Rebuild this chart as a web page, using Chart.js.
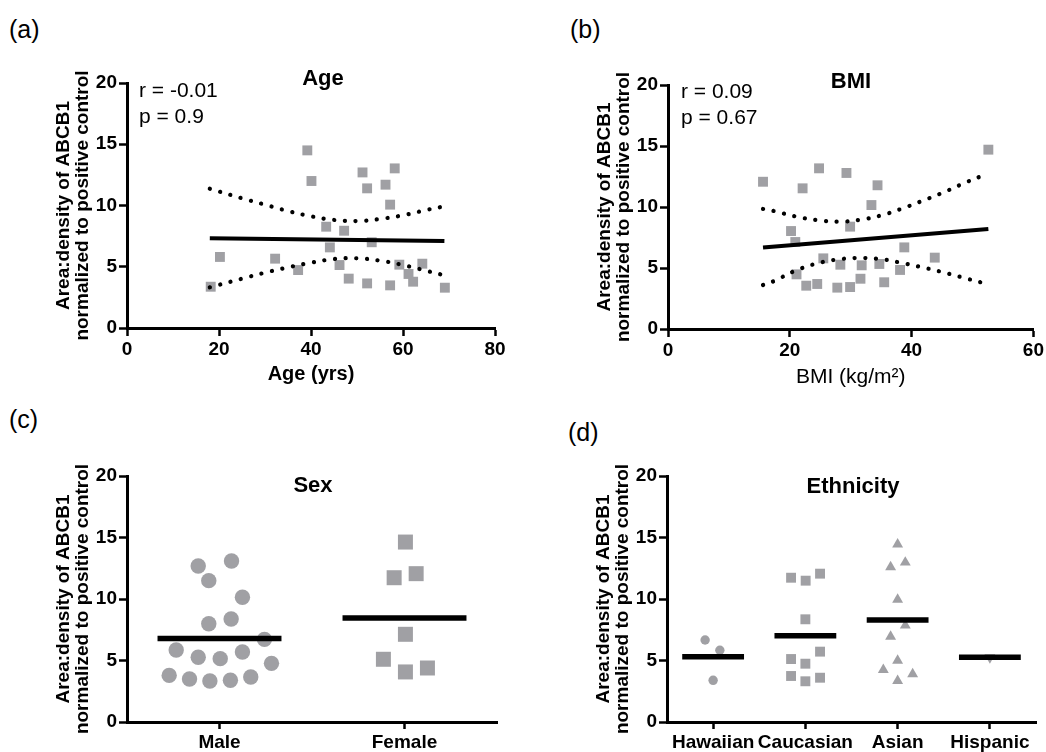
<!DOCTYPE html>
<html>
<head>
<meta charset="utf-8">
<script src="https://cdn.jsdelivr.net/npm/chart.js@4.4.1/dist/chart.umd.min.js"></script>
<style>
  body { margin:0; width:1046px; height:752px; background:#fff; position:relative; overflow:hidden;
         font-family:"Liberation Sans", Arial, sans-serif; }
  canvas { position:absolute; }
  .lab { position:absolute; font-size:25px; line-height:1; color:#000; }
</style>
</head>
<body>
<div class="lab" style="left:9px;top:17px">(a)</div>
<div class="lab" style="left:570px;top:17px">(b)</div>
<div class="lab" style="left:9px;top:407px">(c)</div>
<div class="lab" style="left:568px;top:420px">(d)</div>
<canvas id="cA" width="530" height="350" style="left:0;top:50px"></canvas>
<canvas id="cB" width="506" height="350" style="left:540px;top:50px"></canvas>
<canvas id="cC" width="530" height="332" style="left:0;top:420px"></canvas>
<canvas id="cD" width="506" height="332" style="left:540px;top:420px"></canvas>
<script>
// ── Daten ───────────────────────────────────────────────────────────────────
const ageX = [18.2, 20.2, 32.2, 37.2, 39.2, 40.1, 43.3, 44.1, 46.2, 47.2, 48.2, 51.2,
              52.2, 52.2, 53.2, 56.2, 57.2, 57.2, 58.2, 59.2, 61.2, 62.2, 64.2, 69.1];
const ageY = [3.37, 5.8, 5.66, 4.73, 14.5, 12.0, 8.27, 6.58, 5.14, 7.94, 4.03, 12.7,
              11.4, 3.64, 7.0, 11.7, 10.07, 3.48, 13.03, 5.17, 4.41, 3.78, 5.25, 3.29];
const ageFitX = [18, 69];
const ageFitY = [7.32, 7.1];
const ageBandX = [18, 25, 30, 35, 40, 45, 50, 55, 60, 65, 69];
const ageUpper = [11.37, 10.59, 10.07, 9.55, 9.12, 8.82, 8.73, 8.9, 9.2, 9.63, 9.93];
const ageLower = [3.32, 4.03, 4.52, 4.95, 5.33, 5.63, 5.69, 5.5, 5.14, 4.68, 4.3];

const bmiX = [15.6, 20.2, 20.9, 21.1, 22.1, 22.7, 24.5, 24.8, 25.5, 27.8, 28.3, 29.3,
              29.9, 29.9, 31.6, 31.8, 33.4, 34.4, 34.7, 35.5, 38.1, 38.8, 43.8, 52.6];
const bmiY = [12.07, 8.03, 7.13, 4.48, 11.53, 3.55, 3.69, 13.17, 5.79, 3.39, 5.27, 12.79,
              8.39, 3.44, 4.12, 5.22, 10.16, 11.78, 5.33, 3.83, 4.84, 6.69, 5.85, 14.7];
const bmiFitX = [15.6, 52.6];
const bmiFitY = [6.69, 8.2];
const bmiBandX = [15.6, 17.4, 20.9, 24.5, 28.0, 31.6, 35.2, 38.7, 42.0, 45.4, 48.7, 52.6];
const bmiUpper = [9.84, 9.67, 9.23, 8.93, 8.8, 8.96, 9.34, 9.92, 10.55, 11.23, 11.97, 12.75];
const bmiLower = [3.6, 3.93, 4.78, 5.38, 5.71, 5.82, 5.71, 5.38, 5.03, 4.62, 4.18, 3.66];

const sexCats = ['Male', 'Female'];
const maleJit = [-0.115, 0.065, -0.058, 0.124, -0.058, 0.063, 0.243, -0.234, -0.115, 0.004,
                 0.124, 0.281, -0.272, -0.162, -0.052, 0.059, 0.169];
const maleVal = [12.68, 13.09, 11.49, 10.14, 7.99, 8.37, 6.72, 5.85, 5.26, 5.15,
                 5.69, 4.77, 3.79, 3.5, 3.33, 3.39, 3.66];
const femaleJit = [0.005, -0.056, 0.063, 0.005, -0.114, 0.005, 0.124];
const femaleVal = [14.63, 11.73, 12.06, 7.13, 5.1, 4.07, 4.39];
const sexMean = [6.78, 8.46];

const ethCats = ['Hawaiian', 'Caucasian', 'Asian', 'Hispanic'];
const hawJit = [-0.087, 0.073, 0];
const hawVal = [6.67, 5.83, 3.39];
const cauJit = [-0.155, 0.003, 0.159, 0, -0.155, 0, 0.159, -0.155, 0, 0.159];
const cauVal = [11.73, 11.49, 12.06, 8.35, 5.12, 4.74, 5.72, 3.74, 3.31, 3.6];
const asiJit = [0, -0.076, 0.083, 0, -0.076, 0.083, -0.155, 0, 0.163, 0];
const asiVal = [14.45, 12.6, 12.97, 9.96, 6.95, 7.85, 4.25, 5.0, 3.89, 3.35];
const hisJit = [0];
const hisVal = [5.25];
const ethMean = [5.31, 7.02, 8.29, 5.26];

const YTITLE = ['Area:density of ABCB1', 'normalized to positive control'];

// ── Gemeinsames ─────────────────────────────────────────────────────────────
const FF = '"Liberation Sans", Arial, Helvetica, sans-serif';
Chart.defaults.font.family = FF;
Chart.defaults.color = '#000';
const GREY = '#a0a0a4';
const BAR_HALF = 0.335;

const xy = (xs, ys) => xs.map((x, i) => ({ x, y: ys[i] }));
const jit = (c, js, vs) => js.map((j, i) => ({ x: c + 0.5 + j, y: vs[i] }));
const meanBar = (c, m) => [{ x: c + 0.5 - BAR_HALF, y: m }, { x: c + 0.5 + BAR_HALF, y: m }];

const gridAx = { drawOnChartArea: false, tickLength: 8, tickWidth: 2.5, tickColor: '#000' };
const borderAx = { width: 3, color: '#000' };
const tickFont = { size: 19, weight: 'bold' };

function yAxis(w, tp) {
  return {
    min: 0, max: 20,
    ticks: { stepSize: 5, color: '#000', font: tickFont, padding: 2 },
    grid: gridAx, border: borderAx,
    title: { display: true, text: YTITLE, color: '#000',
             font: { size: 19, weight: 'bold', lineHeight: 1.0 }, padding: { top: tp, bottom: 0 } },
    afterFit: s => { s.width = w; },
  };
}

function xLin(max, step, h, title, weight, pb) {
  return {
    type: 'linear', min: 0, max,
    ticks: { stepSize: step, color: '#000', font: tickFont, padding: 2, maxRotation: 0 },
    grid: gridAx, border: borderAx,
    title: { display: true, text: title, color: '#000',
             font: { size: weight === 'bold' ? 20 : 21, weight }, padding: { top: 0, bottom: pb } },
    afterFit: s => { s.height = h; },
  };
}

function xCat(cats, h) {
  return {
    type: 'linear', min: 0, max: cats.length,
    afterBuildTicks: s => { s.ticks = cats.map((c, i) => ({ value: i + 0.5 })); },
    ticks: { color: '#000', font: tickFont, padding: 2, autoSkip: false, maxRotation: 0,
             callback: v => cats[Math.floor(v)] },
    grid: { drawOnChartArea: false, tickLength: 7, tickWidth: 2.5, tickColor: '#000' },
    border: borderAx,
    afterFit: s => { s.height = h; },
  };
}

// Texte im Plot (Titel, r/p) relativ zur Chart-Area
const notes = items => ({
  id: 'notes',
  afterDraw(ch) {
    const { ctx, chartArea: a } = ch;
    ctx.save();
    ctx.fillStyle = '#000';
    ctx.textBaseline = 'alphabetic';
    items.forEach(t => {
      ctx.font = t.font;
      ctx.textAlign = t.align || 'left';
      ctx.fillText(t.text, a.left + t.dx, a.top + t.dy);
    });
    ctx.restore();
  },
});

const pts = (data, style, r, extra) => Object.assign({
  data, pointStyle: style, pointRadius: r, pointBackgroundColor: GREY,
  pointBorderWidth: 0, showLine: false, order: 2,
}, extra || {});
const fit = data => ({ data, showLine: true, borderColor: '#000', borderWidth: 4,
  pointRadius: 0, order: 0 });
const band = data => ({ data, showLine: true, borderColor: '#000', borderWidth: 4.2,
  borderDash: [0.1, 10.6], borderCapStyle: 'round', tension: 0.4, pointRadius: 0, order: 1 });
const bar = data => ({ data, showLine: true, borderColor: '#000', borderWidth: 5.5,
  borderCapStyle: 'butt', pointRadius: 0, order: 0 });

function make(id, datasets, scales, padding, plugin) {
  return new Chart(document.getElementById(id), {
    type: 'scatter',
    data: { datasets },
    options: {
      responsive: false, animation: false, devicePixelRatio: 1, events: [],
      layout: { padding },
      clip: false,
      scales,
      plugins: { legend: { display: false }, tooltip: { enabled: false } },
    },
    plugins: [plugin],
  });
}

// ── (a) Alter ───────────────────────────────────────────────────────────────
make('cA', [
  fit(xy(ageFitX, ageFitY)),
  band(xy(ageBandX, ageUpper)),
  band(xy(ageBandX, ageLower)),
  pts(xy(ageX, ageY), 'rect', 7),
], { x: xLin(80, 20, 72, 'Age (yrs)', 'bold', 14), y: yAxis(127, 54) },
  { top: 33, right: 35, left: 0, bottom: 0 },
  notes([
    { text: 'Age', font: 'bold 22px ' + FF, align: 'center', dx: 196, dy: 2 },
    { text: 'r = -0.01', font: '21px ' + FF, dx: 12, dy: 14 },
    { text: 'p = 0.9', font: '21px ' + FF, dx: 12, dy: 40 },
  ]));

// ── (b) BMI ─────────────────────────────────────────────────────────────────
make('cB', [
  fit(xy(bmiFitX, bmiFitY)),
  band(xy(bmiBandX, bmiUpper)),
  band(xy(bmiBandX, bmiLower)),
  pts(xy(bmiX, bmiY), 'rect', 7),
], { x: xLin(60, 20, 71, 'BMI (kg/m²)', 'normal', 10.4), y: yAxis(128, 55) },
  { top: 35, right: 12, left: 0, bottom: 0 },
  notes([
    { text: 'BMI', font: 'bold 22px ' + FF, align: 'center', dx: 183, dy: 3 },
    { text: 'r = 0.09', font: '21px ' + FF, dx: 13, dy: 13 },
    { text: 'p = 0.67', font: '21px ' + FF, dx: 13, dy: 39 },
  ]));

// ── (c) Geschlecht ──────────────────────────────────────────────────────────
make('cC', [
  bar(meanBar(0, sexMean[0])),
  bar(meanBar(1, sexMean[1])),
  pts(jit(0, maleJit, maleVal), 'circle', 7.7),
  pts(jit(1, femaleJit, femaleVal), 'rect', 10.6),
], { x: xCat(sexCats, 30), y: yAxis(127, 54) },
  { top: 56, right: 33, left: 0, bottom: 0 },
  notes([{ text: 'Sex', font: 'bold 22px ' + FF, align: 'center', dx: 186, dy: 16 }]));

// ── (d) Ethnie ──────────────────────────────────────────────────────────────
make('cD', [
  ...ethMean.map((m, i) => bar(meanBar(i, m))),
  pts(jit(0, hawJit, hawVal), 'circle', 4.7),
  pts(jit(1, cauJit, cauVal), 'rect', 7),
  pts(jit(2, asiJit, asiVal), 'triangle', 6.3),
  pts(jit(3, hisJit, hisVal), 'triangle', 6.3, { pointRotation: 180 }),
], { x: xCat(ethCats, 30), y: yAxis(127, 54) },
  { top: 56, right: 10, left: 0, bottom: 0 },
  notes([{ text: 'Ethnicity', font: 'bold 22px ' + FF, align: 'center', dx: 186, dy: 17 }]));
</script>
</body>
</html>
